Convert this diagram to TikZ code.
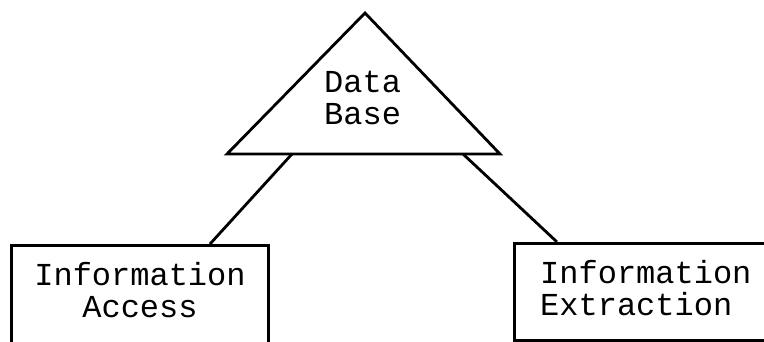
\documentclass[tikz,border=0pt]{standalone}
\usepackage{fontspec}
\setmonofont{Liberation Mono}
\begin{document}
\begin{tikzpicture}[x=1pt,y=-1pt,
  outline/.style={draw=black,line width=2.8pt,line join=miter},
  box/.style={outline,rectangle,inner sep=0pt},
  caption/.style={font=\ttfamily\fontsize{32}{32}\selectfont,inner sep=0pt,text=black},
  link/.style={draw=black,line width=2.8pt}]
\useasboundingbox (0,0) rectangle (764,342);
\clip (0,0) rectangle (764,342);

% data base triangle
\coordinate (apex) at (365,13);
\coordinate (baseL) at (227,154);
\coordinate (baseR) at (500,154);
\draw[outline] (apex) -- (baseL) -- (baseR) -- cycle;
% the base anchor of a two-line node sits on its last line
\node[caption,anchor=base west,align=left] (db) at (324,125) {Data\\Base};

% the two boxes
\node[box,anchor=north west,minimum width=257pt,minimum height=112pt] (accbox) at (10,244) {};
\node[caption,anchor=base,align=center] (acc) at (140,317) {Information\\Access};

\node[box,anchor=north west,minimum width=280pt,minimum height=97pt] (extbox) at (513,242) {};
\node[caption,anchor=base west,align=left] (ext) at (540,315) {Information\\Extraction};

% connectors
\coordinate (dbL) at (292,154);
\coordinate (dbR) at (463,154);
\coordinate (accTop) at (210,244);
\coordinate (extTop) at (557,242);
\draw[link] (dbL) -- (accTop);
\draw[link] (dbR) -- (extTop);
\end{tikzpicture}
\end{document}
